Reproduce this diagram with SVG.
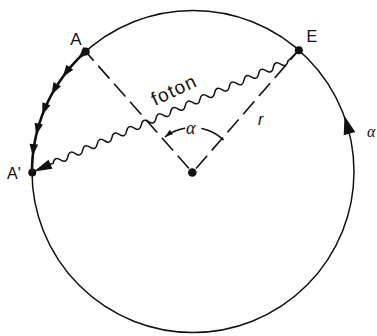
<svg xmlns="http://www.w3.org/2000/svg" width="377" height="336" viewBox="0 0 377 336">
<style>
.ln{fill:none;stroke:#111;stroke-linecap:round;stroke-linejoin:round}
.dash{fill:none;stroke:#111;stroke-width:1.6;stroke-dasharray:17 7}
.dot{fill:#111}
.lbl{font-family:"Liberation Sans",Arial,sans-serif;fill:#111}
.gr{font-family:"Liberation Serif","Times New Roman",serif;font-style:italic;fill:#111}
</style>
<defs>
<marker id="ah" markerUnits="userSpaceOnUse" markerWidth="16" markerHeight="12" viewBox="-14 -6 16 12" refX="0" refY="0" orient="auto">
<path d="M0,0 L-12,-4.3 L-12,4.3 Z" fill="#111"/>
</marker>
<marker id="ahs" markerUnits="userSpaceOnUse" markerWidth="10" markerHeight="8" viewBox="-9 -4 10 8" refX="0" refY="0" orient="auto">
<path d="M0,0 L-7.5,-2.8 L-7.5,2.8 Z" fill="#111"/>
</marker>
</defs>
<g id="circle">
<circle cx="193" cy="171.5" r="161" class="ln" stroke-width="1.5"/>
<polygon points="344.5,116 355.3,131.9 343.7,135.2" fill="#111"/>
</g>
<g id="connectors">
<line class="dash" x1="189" y1="168.5" x2="86" y2="52"/>
<line class="dash" x1="196" y1="168.5" x2="299" y2="50"/>
<path class="ln" stroke-width="2.6" marker-mid="url(#ah)" d="M85.7,51.5 A161,161 0 0 0 78.2,58.7 A161,161 0 0 0 62.75,76.9 A161,161 0 0 0 51.5,94.7 A161,161 0 0 0 42.2,115.1 A161,161 0 0 0 36.1,135.3 A161,161 0 0 0 32.7,156.1 A161,161 0 0 0 32,171.5"/>
<path class="ln" stroke-width="1.5" marker-end="url(#ahs)" d="M184.7,128.2 A45,45 0 0 0 165.4,136.6"/>
<path class="ln" stroke-width="1.5" d="M201.9,128.5 A45,45 0 0 1 223.2,139.6"/>
<g id="foton-wave">
<line class="ln" stroke-width="1.5" x1="298.8" y1="50.2" x2="288" y2="61"/>
<g transform="translate(288,61) rotate(156.5)">
<path class="ln" stroke-width="1.5" d="M0,0 q4,-6 8,0 t8,0 t8,0 t8,0 t8,0 t8,0 t8,0 t8,0 t8,0 t8,0 t8,0 t8,0 t8,0 t8,0 t8,0 t8,0 t8,0 t8,0 t8,0 t8,0 t8,0 t8,0 t8,0 t8,0 t8,0 t8,0 t8,0 t8,0 t8,0 t8,0 t8,0 t8,0 l3,0"/>
<polygon points="277,0 259,-5 259,5" fill="#111"/>
</g>
</g>
</g>
<g id="A">
<circle class="dot" cx="85.7" cy="51.5" r="4"/>
<text class="lbl" x="76" y="45" font-size="17" text-anchor="middle">A</text>
</g>
<g id="E">
<circle class="dot" cx="298.8" cy="50.2" r="4"/>
<text class="lbl" x="306.5" y="41.5" font-size="16">E</text>
</g>
<g id="A-prime">
<circle class="dot" cx="32.3" cy="172.5" r="4"/>
<text class="lbl" x="7" y="178.5" font-size="16">A'</text>
</g>
<g id="center">
<circle class="dot" cx="192.3" cy="172.5" r="4.3"/>
</g>
<g id="labels">
<text class="lbl" x="0" y="0" font-size="19" textLength="47" transform="translate(155,106) rotate(-25)">foton</text>
<text class="lbl" x="258" y="125" font-size="16" font-style="italic">r</text>
<text class="gr" x="186" y="134" font-size="18">α</text>
<text class="gr" x="367" y="137" font-size="16">α</text>
</g>
</svg>
